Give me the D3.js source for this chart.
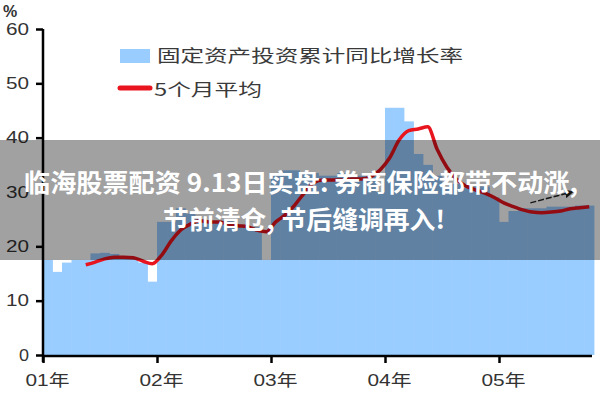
<!DOCTYPE html>
<html><head><meta charset="utf-8">
<script src="https://cdn.jsdelivr.net/npm/d3@7"></script>
<style>html,body{margin:0;padding:0;background:#fff;}svg{display:block;}</style>
</head><body>
<svg id="c" width="600" height="400"></svg>
<script>
// Monthly fixed-asset investment YoY growth (%), Jan 2001 - Oct 2005
const barValues = [
  17.5, 15.3, 17.0, 17.5, 17.5, 18.7, 18.8, 18.6, 18.0, 17.8, 17.0, 13.5,
  24.5, 24.5, 27.0, 26.0, 25.0, 24.5, 24.5, 25.0, 24.0, 23.5, 23.5, 17.5,
  33.5, 34.0, 34.0, 33.5, 33.5, 33.0, 33.0, 33.5, 33.0, 33.0, 33.0, 30.0,
  45.5, 45.5, 43.0, 37.0, 35.0, 33.0, 31.0, 31.5, 30.7, 31.0, 31.0, 29.0,
  24.5, 26.5, 27.0, 27.0, 27.0, 27.3, 27.3, 27.3, 27.5, 27.5
];
// 5-month average, starting at month index 4
const maStart = 4;
const maValues = [
  16.6, 17.1, 17.7, 18.0, 18.0, 17.9, 17.3, 16.8,
  18.4, 21.0, 23.0, 24.1, 24.7, 24.5, 24.5, 24.1, 23.8, 23.6, 23.0, 22.7,
  24.5, 25.8, 27.6, 29.8, 31.7, 32.2, 32.2, 32.2, 32.4, 32.4, 32.8, 34.1,
  36.3, 39.6, 41.3, 41.6, 42.0, 37.8, 34.6, 32.4, 31.1, 30.4, 29.8, 29.0,
  28.0, 27.3, 26.7, 26.3, 26.2, 26.3, 26.5, 26.9, 27.1, 27.3
];
const yearLabels = ["01年", "02年", "03年", "04年", "05年"];
const yTicks = [0, 10, 20, 30, 40, 50, 60];
const legendLabels = ["固定资产投资累计同比增长率", "5个月平均"];
const titleLines = ["临海股票配资 9.13日实盘: 券商保险都带不动涨,", "节前清仓, 节后缝调再入!"];
const arrowFrom = [51.3, 28.0], arrowTo = [55.7, 30.0];

const svg = d3.select("#c");
const x = d3.scaleLinear().domain([0, 12]).range([43, 157]);
const y = d3.scaleLinear().domain([0, 60]).range([355, 29]);

// bars
svg.append("g").selectAll("rect").data(barValues).join("rect")
  .attr("x", (d, i) => x(i))
  .attr("width", (d, i) => x(i + 1) - x(i) + 0.4)
  .attr("y", d => y(d))
  .attr("height", d => y(0) - y(d))
  .attr("fill", "#99ccff");

// moving average line
const line = d3.line()
  .x((d, i) => x(maStart + i + 0.5))
  .y(d => y(d))
  .curve(d3.curveMonotoneX);
svg.append("path").datum(maValues)
  .attr("d", line)
  .attr("fill", "none")
  .attr("stroke", "#e8141e")
  .attr("stroke-width", 3.5)
  .attr("stroke-linejoin", "round");

// arrow annotation
svg.append("defs").append("marker")
  .attr("id", "ah").attr("viewBox", "0 0 10 10")
  .attr("refX", 8).attr("refY", 5)
  .attr("markerWidth", 6).attr("markerHeight", 6)
  .attr("orient", "auto")
  .append("path").attr("d", "M0,0L10,5L0,10z").attr("fill", "#222");
svg.append("line")
  .attr("x1", x(arrowFrom[0])).attr("y1", y(arrowFrom[1]))
  .attr("x2", x(arrowTo[0])).attr("y2", y(arrowTo[1]))
  .attr("stroke", "#222").attr("stroke-width", 1.5)
  .attr("stroke-dasharray", "6,2")
  .attr("marker-end", "url(#ah)");

// axes
const yAxis = d3.axisLeft(y).tickValues(yTicks).tickSize(7).tickPadding(7);
const gy = svg.append("g").attr("transform", "translate(43,0)").call(yAxis);
gy.select(".domain").attr("stroke", "#000").attr("stroke-width", 2.5).attr("d", "M0,29V362");
gy.selectAll(".tick line").attr("stroke", "#000").attr("stroke-width", 2.5);
gy.selectAll(".tick text").attr("fill", "#333")
  .style("font-family", "'Liberation Sans', Arial, sans-serif").style("font-size", "16px")
  .attr("textLength", d => d === 0 ? 10 : 23).attr("lengthAdjust", "spacingAndGlyphs");

const xAxis = d3.axisBottom(x).tickValues([0, 12, 24, 36, 48])
  .tickFormat((d, i) => yearLabels[i]).tickSize(7).tickPadding(12);
const gx = svg.append("g").attr("transform", "translate(0,356)").call(xAxis);
gx.select(".domain").attr("stroke", "#000").attr("stroke-width", 2.5).attr("d", "M43,0H592");
gx.selectAll(".tick line").attr("stroke", "#000").attr("stroke-width", 2.5);
gx.selectAll(".tick text").attr("fill", "#333").attr("dx", 4)
  .style("font-family", "'Liberation Sans', 'Noto Sans CJK SC', sans-serif").style("font-size", "16px")
  .attr("textLength", 44).attr("lengthAdjust", "spacingAndGlyphs");

svg.append("text").attr("x", 3).attr("y", 17).text("%")
  .attr("fill", "#333").style("font-family", "'Liberation Sans', sans-serif")
  .style("font-size", "16px").style("font-weight", "bold");

// legend
const lg = svg.append("g");
lg.append("rect").attr("x", 120).attr("y", 49).attr("width", 30).attr("height", 14).attr("fill", "#99ccff");
lg.append("line").attr("x1", 120).attr("x2", 150).attr("y1", 88).attr("y2", 88)
  .attr("stroke", "#e8141e").attr("stroke-width", 5).attr("stroke-linecap", "round");
lg.selectAll("text").data(legendLabels).join("text")
  .attr("x", (d, i) => i === 0 ? 157 : 154)
  .attr("y", (d, i) => i === 0 ? 62 : 96)
  .attr("textLength", (d, i) => i === 0 ? 306 : 108)
  .attr("lengthAdjust", "spacingAndGlyphs")
  .attr("fill", "#3a3a3a")
  .style("font-family", "'Noto Sans CJK SC', sans-serif").style("font-size", "17px")
  .text(d => d);

// overlay band and title
svg.append("rect").attr("x", 0).attr("y", 140).attr("width", 600).attr("height", 120)
  .attr("fill", "rgba(0,0,0,0.37)");
svg.selectAll("text.title").data(titleLines).join("text").attr("class", "title")
  .attr("x", (d, i) => i === 0 ? 24 : 163).attr("y", (d, i) => i === 0 ? 192 : 229)
  .attr("textLength", (d, i) => i === 0 ? 554 : 282)
  .attr("lengthAdjust", "spacingAndGlyphs")
  .attr("fill", "#fff")
  .style("font-family", "'Noto Sans CJK SC', sans-serif").style("font-size", "25px")
  .style("font-weight", "bold")
  .text(d => d);
</script>
</body></html>
